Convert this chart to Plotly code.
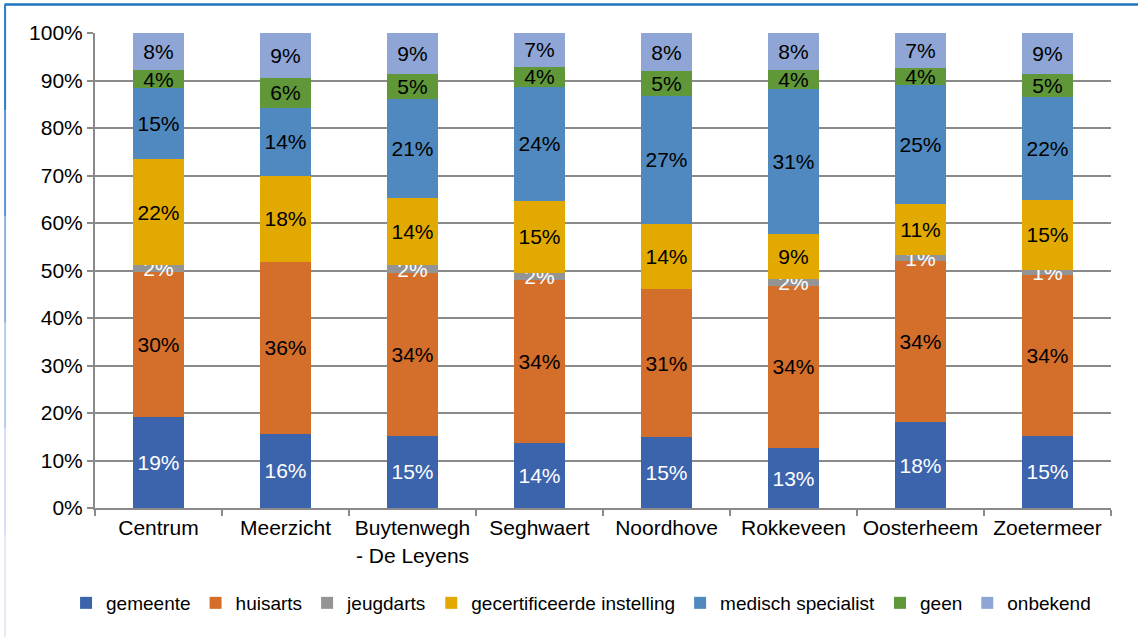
import plotly.graph_objects as go

categories = ["Centrum", "Meerzicht", "Buytenwegh<br>- De Leyens", "Seghwaert",
              "Noordhove", "Rokkeveen", "Oosterheem", "Zoetermeer"]

gemeente = [19.2, 15.6, 15.2, 13.6, 14.9, 12.6, 18.1, 15.2]
huisarts = [30.4, 36.2, 34.3, 34.3, 31.2, 34.2, 33.9, 33.9]
jeugdarts = [1.6, 0.0, 1.6, 1.6, 0.0, 1.5, 1.2, 1.1]
gecertificeerde = [22.2, 18.1, 14.2, 15.2, 13.7, 9.4, 10.8, 14.6]
medisch = [15.0, 14.4, 20.9, 23.9, 27.0, 30.6, 25.0, 21.7]
geen = [3.8, 6.3, 5.2, 4.3, 5.1, 4.0, 3.7, 4.8]
onbekend = [7.8, 9.4, 8.6, 7.1, 8.1, 7.7, 7.3, 8.7]

series = [
    ("gemeente", gemeente, "#3C64AD", "white"),
    ("huisarts", huisarts, "#D46E2B", "black"),
    ("jeugdarts", jeugdarts, "#949494", "white"),
    ("gecertificeerde instelling", gecertificeerde, "#E2AA00", "black"),
    ("medisch specialist", medisch, "#4F89BF", "black"),
    ("geen", geen, "#5F9739", "black"),
    ("onbekend", onbekend, "#8EA5D6", "black"),
]

FONT = "Liberation Sans, Arial, sans-serif"
fig = go.Figure()
for name, vals, color, tcolor in series:
    texts = [f"{round(v):d}%" if v > 0 else "" for v in vals]
    fig.add_trace(go.Bar(
        name=name, x=categories, y=vals, marker=dict(color=color, line=dict(width=0)),
        text=texts, textposition="inside", insidetextanchor="middle",
        constraintext="none", textangle=0,
        textfont=dict(color=tcolor, size=21, family=FONT),
        hoverinfo="skip",
    ))

grid = "#8A8A8A"
fig.update_layout(
    barmode="stack", bargap=0.6,
    width=1138, height=637,
    margin=dict(l=95, r=27, t=33, b=129),
    paper_bgcolor="white", plot_bgcolor="white",
    font=dict(family=FONT, size=21, color="black"),
    showlegend=True,
    legend=dict(orientation="h", x=-0.0285, xanchor="left", y=-0.2, yanchor="middle",
                font=dict(size=19, family=FONT), itemwidth=30, tracegroupgap=0,
                traceorder="normal", itemclick=False, borderwidth=0,
                bgcolor="rgba(0,0,0,0)"),
    uniformtext=dict(mode=False),
)
fig.update_yaxes(range=[0, 100], tickvals=[0, 10, 20, 30, 40, 50, 60, 70, 80, 90, 100],
                 ticktext=[f"{v}%" for v in range(0, 101, 10)],
                 showgrid=True, gridcolor=grid, gridwidth=2,
                 showline=True, linecolor=grid, linewidth=2,
                 ticks="outside", ticklen=6, tickcolor=grid, tickwidth=2,
                 zeroline=False, tickfont=dict(size=21), fixedrange=True)
fig.update_xaxes(showline=True, linecolor=grid, linewidth=2, tickson="boundaries",
                 ticks="outside", ticklen=6, tickcolor=grid, tickwidth=2,
                 showgrid=False, tickfont=dict(size=21), fixedrange=True)

# frame around the chart
fig.add_shape(type="line", xref="paper", yref="paper", x0=-0.089, x1=1.03,
              y0=1.06, y1=1.06, line=dict(color="#1C74BF", width=2.5))
left_cols = ["#2A7CC6", "#5A96D4", "#8EB2E2", "#B8CCEE", "#D6E0F5", "#E4EAF8"]
n = len(left_cols)
y_top, y_bot = 1.06, -0.28
for i, c in enumerate(left_cols):
    fig.add_shape(type="line", xref="paper", yref="paper", x0=-0.0885, x1=-0.0885,
                  y0=y_top - (y_top - y_bot) * i / n, y1=y_top - (y_top - y_bot) * (i + 1) / n,
                  line=dict(color=c, width=2))

fig.write_html("out.html", config={"displayModeBar": False},
               post_script="document.body.style.margin='0';document.body.style.overflow='hidden';")
